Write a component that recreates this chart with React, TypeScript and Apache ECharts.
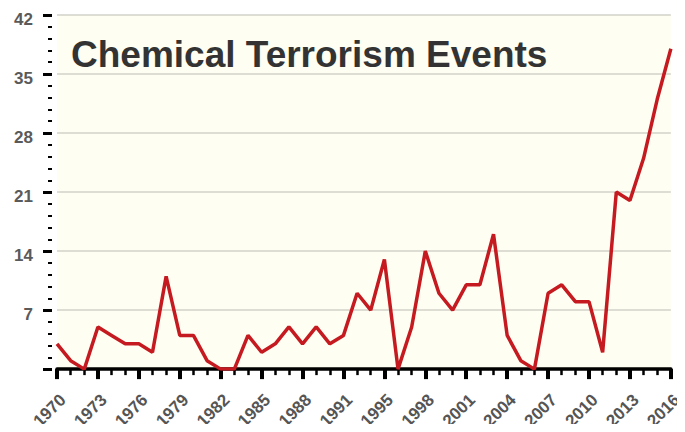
import React, { useEffect, useRef } from "react";
import * as echarts from "echarts";

const years: string[] = [
  "1970","1971","1972","1973","1974","1975","1976","1977","1978","1979",
  "1980","1981","1982","1983","1984","1985","1986","1987","1988","1989",
  "1990","1991","1992","1994","1995","1996","1997","1998","1999","2000",
  "2001","2002","2003","2004","2005","2006","2007","2008","2009","2010",
  "2011","2012","2013","2014","2015","2016",
];

const events: number[] = [
  3, 1, 0, 5, 4, 3, 3, 2, 11, 4,
  4, 1, 0, 0, 4, 2, 3, 5, 3, 5,
  3, 4, 9, 7, 13, 0, 5, 14, 9, 7,
  10, 10, 16, 4, 1, 0, 9, 10, 8, 8,
  2, 21, 20, 25, 32, 38,
];

const titleText = "Chemical Terrorism Events";
const yMin = 0;
const yMax = 42;
const yStep = 7;

const FONT = "'Liberation Sans', Arial, Helvetica, sans-serif";

export default function App() {
  const ref = useRef<HTMLDivElement>(null);

  useEffect(() => {
    if (!ref.current) return;
    const chart = echarts.init(ref.current, null, { renderer: "svg" });
    chart.setOption({
      animation: false,
      backgroundColor: "#ffffff",
      title: {
        text: titleText,
        left: 66,
        top: 31,
        textStyle: {
          fontFamily: FONT,
          fontSize: 37,
          fontWeight: "bold",
          color: "#333333",
        },
      },
      grid: {
        left: 57,
        right: 12,
        top: 15,
        bottom: 62,
        show: true,
        backgroundColor: "#fffef2",
        borderWidth: 0,
      },
      xAxis: [
        {
          type: "category",
          data: years,
          boundaryGap: false,
          position: "bottom",
          axisLine: { onZero: false, lineStyle: { color: "#000", width: 3.5 } },
          axisTick: { interval: 0, length: 6, lineStyle: { color: "#000", width: 2.5 } },
          axisLabel: { show: false },
          splitLine: { show: false },
        },
        {
          type: "category",
          data: years,
          boundaryGap: false,
          position: "bottom",
          axisLine: { show: false, onZero: false },
          axisTick: { interval: 2, length: 10, lineStyle: { color: "#000", width: 4 } },
          axisLabel: {
            interval: 2,
            rotate: 45,
            margin: 22,
            verticalAlign: "top",
            fontFamily: FONT,
            fontSize: 17,
            fontWeight: "bold",
            color: "#555555",
          },
          splitLine: { show: false },
        },
      ],
      yAxis: {
        type: "value",
        min: yMin,
        max: yMax,
        interval: yStep,
        offset: 5,
        axisLine: { show: false },
        axisTick: { show: true, length: 9, lineStyle: { color: "#000", width: 3 } },
        minorTick: { show: true, splitNumber: 5, length: 4, lineStyle: { color: "#000", width: 2 } },
        axisLabel: {
          margin: 19,
          fontFamily: FONT,
          fontSize: 17,
          fontWeight: "bold",
          color: "#5a5a5a",
          verticalAlign: "top",
          lineHeight: 9,
          formatter: (v: number) => (v === 0 ? "" : String(v)),
        },
        splitLine: { show: true, lineStyle: { color: "#d2d2ca", width: 1.5 } },
      },
      series: [
        {
          type: "line",
          xAxisIndex: 0,
          data: events,
          symbol: "none",
          lineStyle: { color: "#c41a20", width: 3.5 },
        },
      ],
    });
    return () => chart.dispose();
  }, []);

  return <div ref={ref} style={{ width: 685, height: 432, margin: -8 }} />;
}
